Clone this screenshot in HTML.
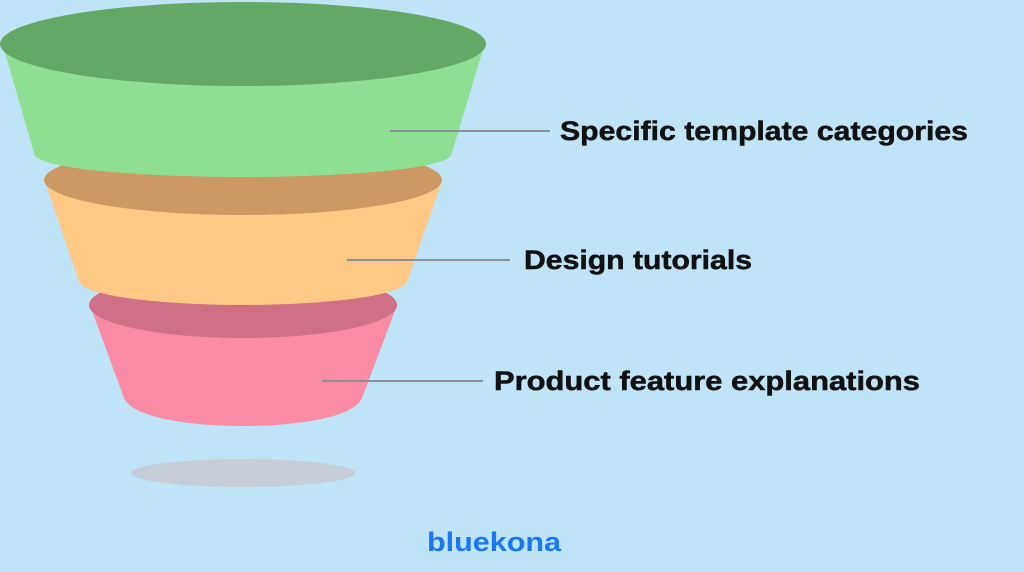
<!DOCTYPE html>
<html><head><style>
html,body{margin:0;padding:0;background:#bfe3f7;}
svg{display:block}
</style></head><body>
<svg width="1024" height="572" viewBox="0 0 1024 572" xmlns="http://www.w3.org/2000/svg">
<rect width="1024" height="572" fill="#bfe3f7"/>
<ellipse cx="243" cy="473" rx="112" ry="14" fill="#c5ced8"/>
<!-- pink -->
<path d="M91,308 L124,398 C134,420 200,426 243,426 C286,426 352,420 362,398 L396,308 Z" fill="#fa8ba4"/>
<ellipse cx="243" cy="305" rx="154" ry="33" fill="#cf7086"/>
<!-- orange -->
<path d="M46,184 L79,282 C90,300 190,305 243,305 C296,305 396,300 407,282 L441,184 Z" fill="#fec885"/>
<ellipse cx="243" cy="180" rx="199" ry="35" fill="#cc9863"/>
<!-- green -->
<path d="M3,46 L35,156 C50,172 170,177 243,177 C316,177 436,172 451,156 L484,46 Z" fill="#8fdf92"/>
<ellipse cx="243" cy="44" rx="243" ry="42" fill="#63a864"/>
<!-- connectors -->
<g stroke="#8a9196" stroke-width="2">
<line x1="390" y1="131" x2="550" y2="131"/>
<line x1="347" y1="260" x2="510" y2="260"/>
<line x1="322" y1="381" x2="483" y2="381"/>
</g>
<g font-family="Liberation Sans, sans-serif" font-weight="bold" font-size="27" fill="#111" stroke="#111" stroke-width="0.5">
<text x="560" y="140" textLength="408" lengthAdjust="spacingAndGlyphs">Specific template categories</text>
<text x="524" y="269" textLength="228" lengthAdjust="spacingAndGlyphs">Design tutorials</text>
<text x="494" y="390" textLength="426" lengthAdjust="spacingAndGlyphs">Product feature explanations</text>
</g>
<text x="427" y="551" font-family="Liberation Sans, sans-serif" font-weight="bold" font-size="27" fill="#1877f2" textLength="134" lengthAdjust="spacingAndGlyphs">bluekona</text>
</svg>
</body></html>
